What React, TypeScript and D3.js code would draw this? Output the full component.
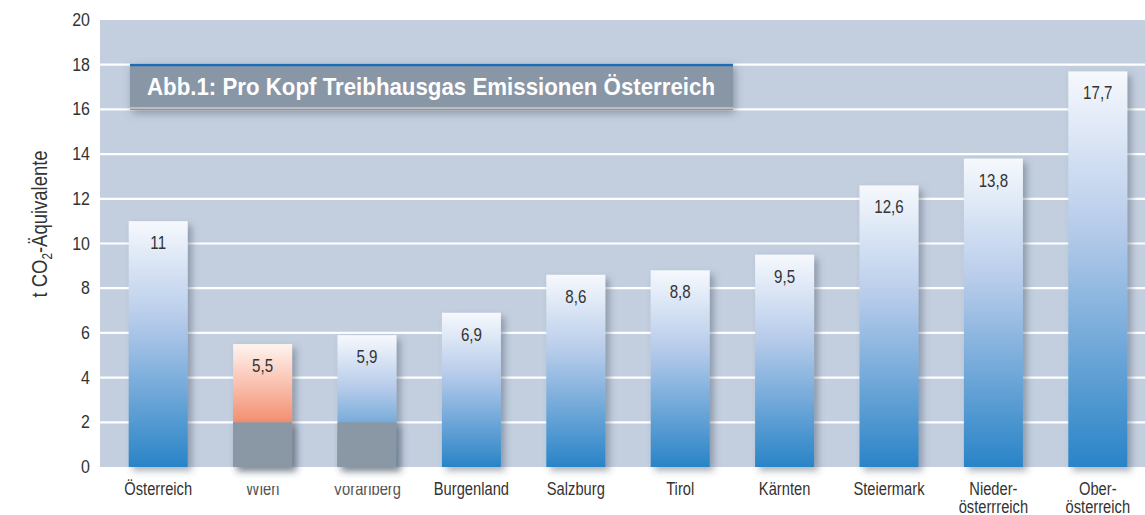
import React from "react";
import * as d3 from "d3";

const categories = ["Österreich", "Wien", "Vorarlberg", "Burgenland", "Salzburg", "Tirol", "Kärnten", "Steiermark", "Nieder-\nösterrreich", "Ober-\nösterreich"];
const values = [11, 5.5, 5.9, 6.9, 8.6, 8.8, 9.5, 12.6, 13.8, 17.7];
const valueLabels = ["11", "5,5", "5,9", "6,9", "8,6", "8,8", "9,5", "12,6", "13,8", "17,7"];
const baseBlocks = [0, 2, 2, 0, 0, 0, 0, 0, 0, 0];
const barKinds = ["blue", "orange", "blue", "blue", "blue", "blue", "blue", "blue", "blue", "blue"];
const yTicks = [0, 2, 4, 6, 8, 10, 12, 14, 16, 18, 20];
const title = "Abb.1: Pro Kopf Treibhausgas Emissionen Österreich";

const W = 1145, H = 515;
const plotLeft = 100, plotTop = 20, plotBottom = 467;
const FONT = "'Liberation Sans', Arial, sans-serif";
const SX = 0.84;

function CText({ x, y, anchor = "middle", size, fill = "#333", weight = "normal", children }: any) {
  return (
    <g transform={`translate(${x},${y}) scale(${SX},1)`}>
      <text x={0} y={0} textAnchor={anchor} fontFamily={FONT} fontSize={size} fontWeight={weight} fill={fill}>{children}</text>
    </g>
  );
}

export default function App() {
  const y = d3.scaleLinear().domain([0, 20]).range([plotBottom, plotTop]);
  const x = d3.scaleBand<number>().domain(d3.range(categories.length)).range([106, 1150]).paddingInner(0.435).paddingOuter(0.2175);
  const bw = x.bandwidth();
  return (
    <svg width={W} height={H} style={{ position: "absolute", left: 0, top: 0, background: "#fff" }}>
      <defs>
        <linearGradient id="gBlue" x1="0" y1="0" x2="0" y2="1">
          <stop offset="0" stopColor="#f6f9fd" />
          <stop offset="0.4" stopColor="#b6cbea" />
          <stop offset="1" stopColor="#2984c7" />
        </linearGradient>
        <linearGradient id="gOrange" x1="0" y1="0" x2="0" y2="1">
          <stop offset="0" stopColor="#fff4ef" />
          <stop offset="0.64" stopColor="#f48e70" />
          <stop offset="1" stopColor="#e8704e" />
        </linearGradient>
        <filter id="shadow" x="-20%" y="-20%" width="150%" height="150%">
          <feDropShadow dx="4" dy="4" stdDeviation="3.5" floodColor="#4a5668" floodOpacity="0.45" />
        </filter>
        <filter id="tshadow" x="-10%" y="-40%" width="120%" height="190%">
          <feDropShadow dx="2" dy="3" stdDeviation="4" floodColor="#4a5668" floodOpacity="0.5" />
        </filter>
        {categories.map((c, i) => (
          <clipPath key={i} id={`lc${i}`}>
            <rect x={(x(i) ?? 0) - 30} y={baseBlocks[i] > 0 ? 486 : 470} width={bw + 60} height={60} />
          </clipPath>
        ))}
      </defs>
      <rect x={plotLeft} y={plotTop} width={W - plotLeft} height={plotBottom - plotTop} fill="#c3cfdf" />
      {yTicks.filter((t) => t > 0 && t < 20).map((t) => (
        <line key={t} x1={plotLeft} x2={W} y1={y(t)} y2={y(t)} stroke="#ffffff" strokeWidth={2.2} />
      ))}
      {yTicks.map((t) => (
        <CText key={t} x={90} y={y(t) + 6} anchor="end" size={19}>{t}</CText>
      ))}
      <g transform={`translate(47,${224}) rotate(-90) scale(${SX},1)`}>
        <text textAnchor="middle" fontFamily={FONT} fontSize={22} fill="#333">
          t CO<tspan fontSize={14} dy={5}>2</tspan><tspan dy={-5}>-Äquivalente</tspan>
        </text>
      </g>
      {values.map((v, i) => {
        const bx = x(i) ?? 0;
        const base = baseBlocks[i];
        return (
          <g key={i}>
            <rect x={bx} y={y(v)} width={bw} height={y(0) - y(v)} fill={`url(#${barKinds[i] === "orange" ? "gOrange" : "gBlue"})`} filter="url(#shadow)" />
            {base > 0 && (
              <rect x={bx} y={y(base)} width={bw} height={y(0) - y(base)} fill="#8a97a5" filter="url(#shadow)" />
            )}
            <CText x={bx + bw / 2} y={y(v) + 28} size={18}>{valueLabels[i]}</CText>
          </g>
        );
      })}
      {categories.map((c, i) => {
        const cx = (x(i) ?? 0) + bw / 2;
        const lines = c.split("\n");
        return (
          <g key={i} clipPath={`url(#lc${i})`}>
            {lines.map((l, k) => (
              <CText key={k} x={cx} y={495 + k * 18} size={17.5} fill={baseBlocks[i] > 0 ? "#555" : "#333"}>{l}</CText>
            ))}
          </g>
        );
      })}
      <rect x={130} y={64} width={603} height={46} fill="#8996a6" filter="url(#tshadow)" />
      <line x1={130} x2={733} y1={108} y2={108} stroke="#bdbdbd" strokeWidth={2} />
      <line x1={130} x2={733} y1={65} y2={65} stroke="#1a6db6" strokeWidth={2.5} />
      <text x={147} y={95} fontFamily={FONT} fontWeight="bold" fontSize={24} fill="#ffffff" textLength={568} lengthAdjust="spacingAndGlyphs">{title}</text>
    </svg>
  );
}
